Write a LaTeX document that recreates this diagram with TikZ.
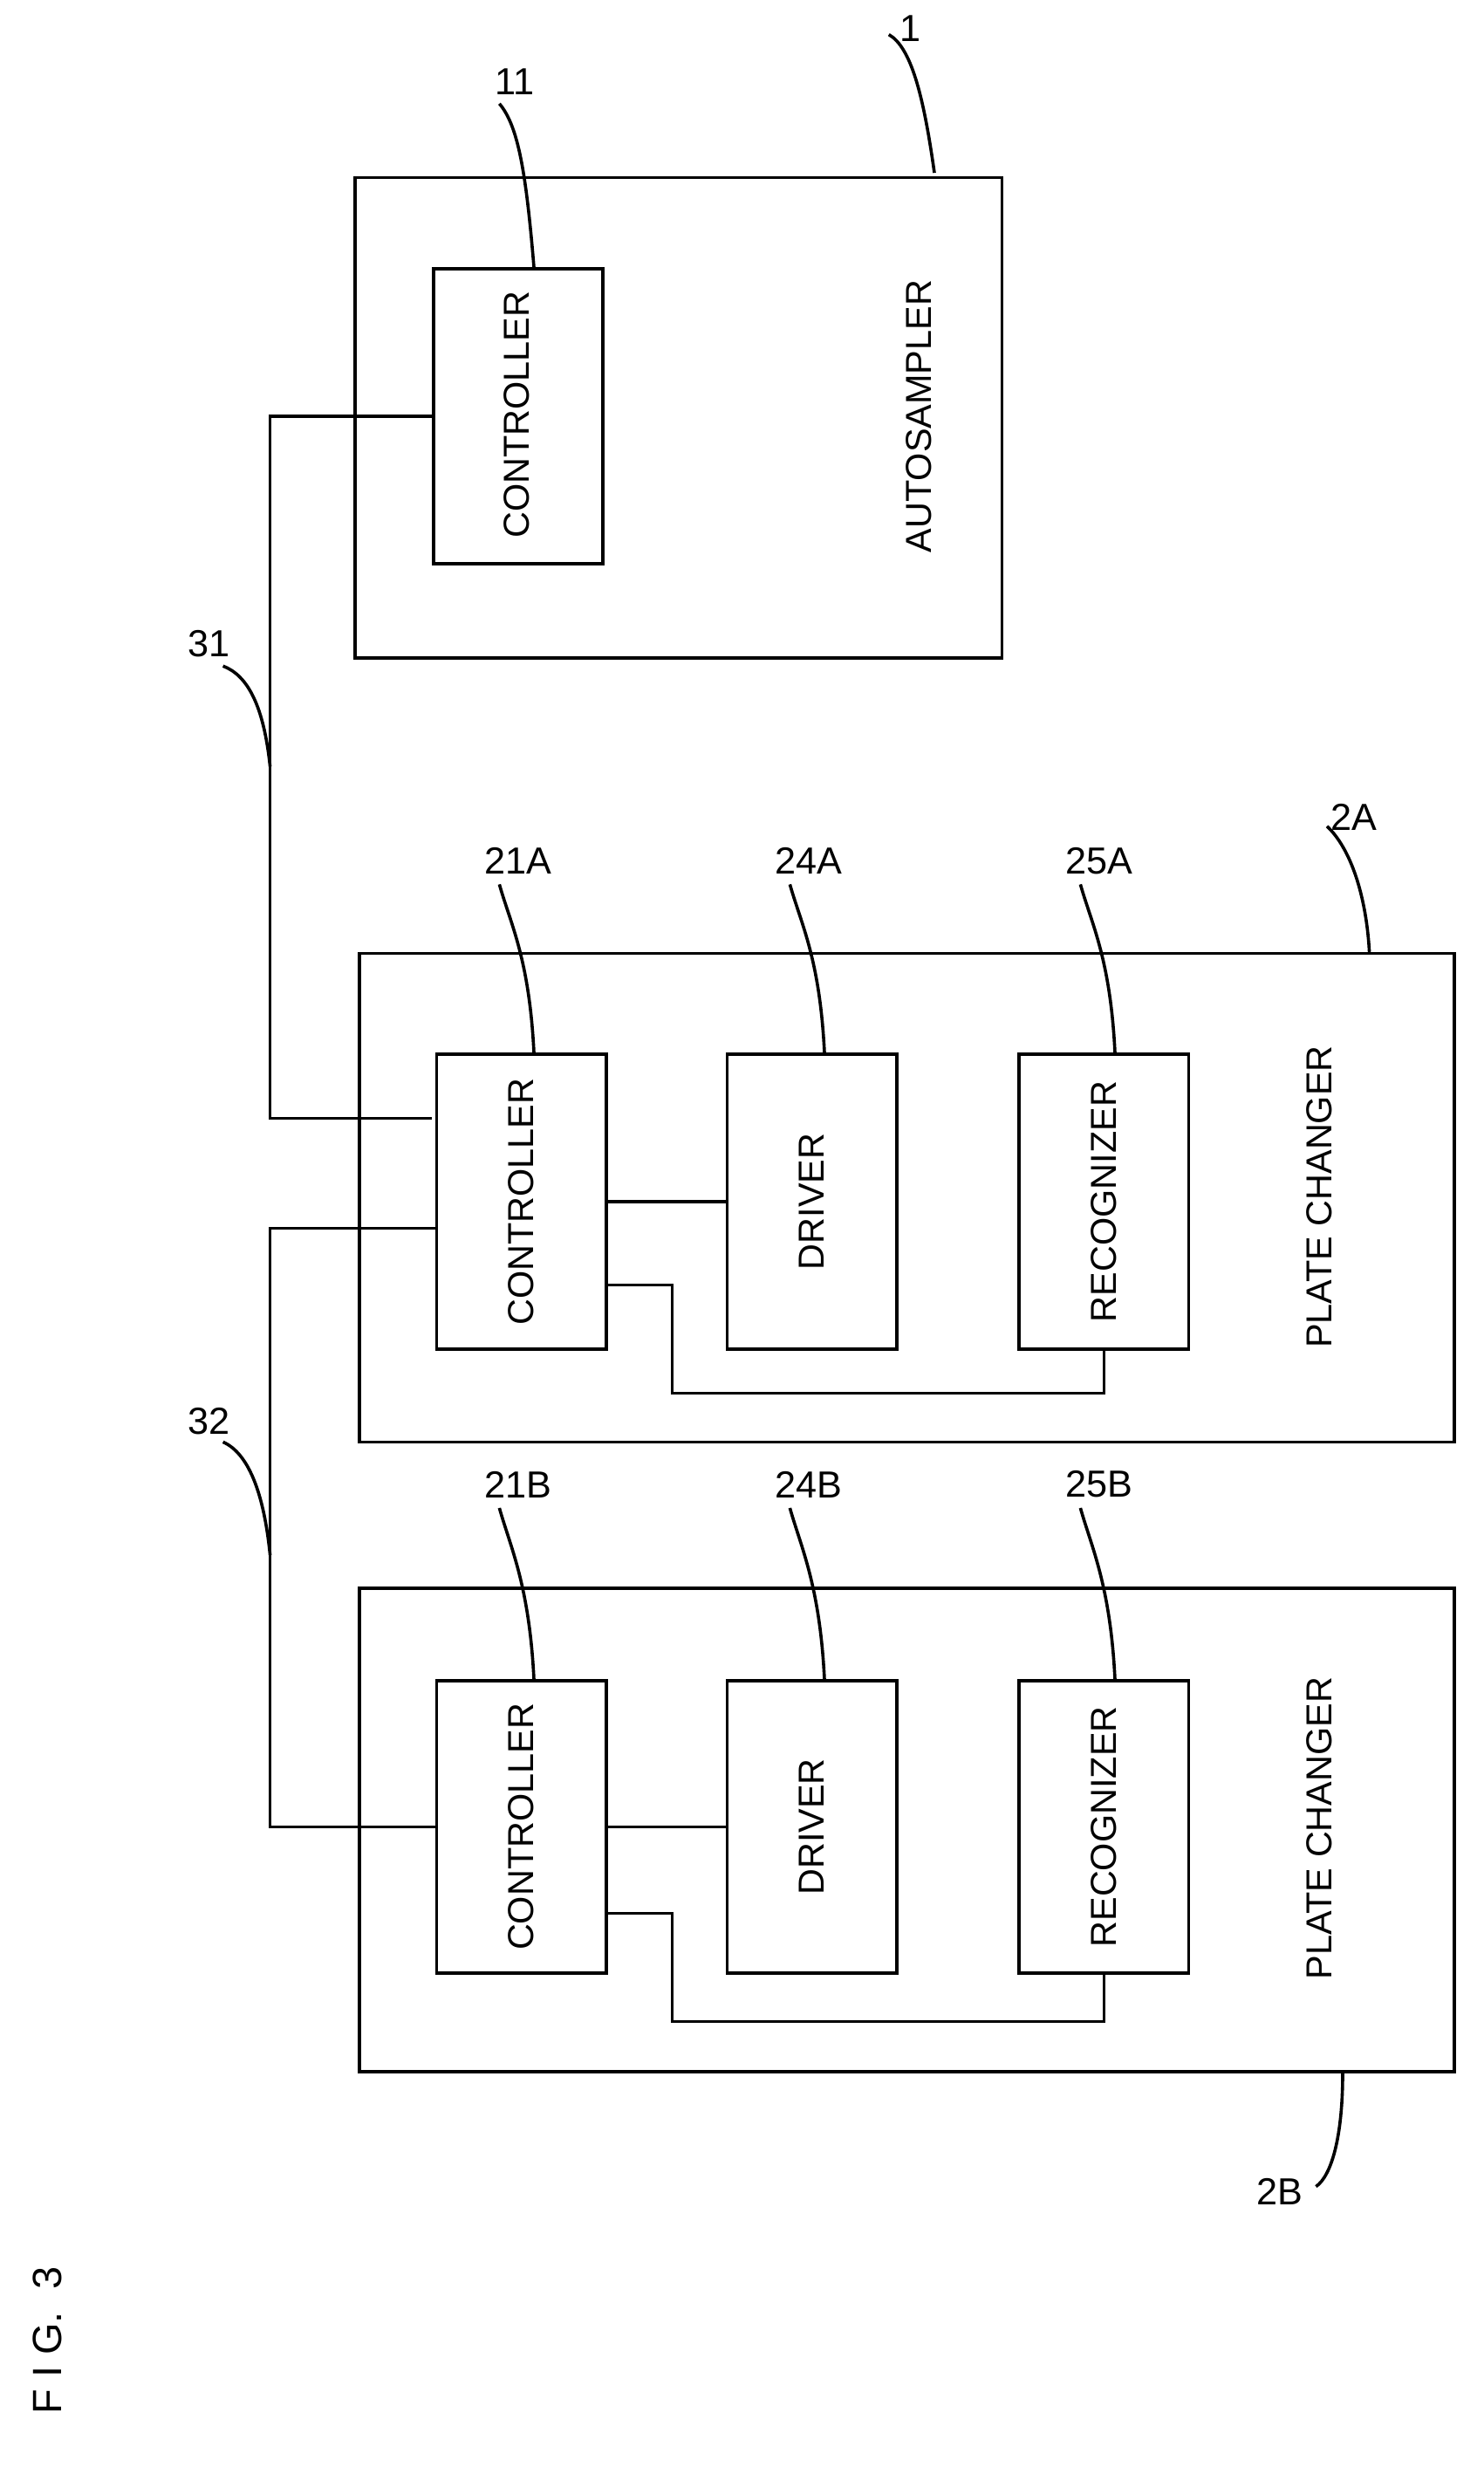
\documentclass[tikz,border=0pt]{standalone}
\usepackage{fontspec}
\setmainfont{Liberation Sans}
\begin{document}
\begin{tikzpicture}[x=1pt,y=-1pt,line width=2pt,
 txt/.style={rotate=90,font=\fontsize{23}{25}\selectfont},
 lab/.style={font=\fontsize{24}{26}\selectfont}]
\useasboundingbox (0,0) rectangle (945,1575);
\node[draw,minimum width=412pt,minimum height=306pt,inner sep=0,anchor=north west] (b1) at (225,112) {};
\node[draw,minimum width=108pt,minimum height=188pt,inner sep=0,anchor=north west] (c11) at (275,170) {};
\node[txt] at (329,264) {CONTROLLER};
\node[txt] (t1) at (585,265) {AUTOSAMPLER};
\node[draw,minimum width=697pt,minimum height=311pt,inner sep=0,anchor=north west] (b2a) at (228,606) {};
\node[draw,minimum width=697pt,minimum height=308pt,inner sep=0,anchor=north west] (b2b) at (228,1010) {};
\foreach \n/\y/\h in {a/670/188,b/1069/186}{
 \node[draw,minimum width=108pt,minimum height=\h pt,inner sep=0,anchor=north west] (c\n) at (277,\y) {};
 \node[draw,minimum width=108pt,minimum height=\h pt,inner sep=0,anchor=north west] (d\n) at (462,\y) {};
 \node[draw,minimum width=108pt,minimum height=\h pt,inner sep=0,anchor=north west] (r\n) at (648,\y) {};
 \node[txt] at (c\n) {CONTROLLER};
 \node[txt] at (d\n) {DRIVER};
 \node[txt] at (r\n) {RECOGNIZER};
}
\node[txt] at (840,762) {PLATE CHANGER};
\node[txt] at (840,1164) {PLATE CHANGER};
\draw (c11.west) -- (172,265) -- (172,712) -- (c11.west |- 0,712);
\draw (277,782) -- (172,782) -- (172,1163) -- (277,1163);
\draw (ca.east |- 0,765) -- (da.west |- 0,765);
\draw (cb.east |- 0,1163) -- (db.west |- 0,1163);
\draw (385,818) -- (428,818) -- (428,887) -- (703,887) -- (ra.south -| 703,0);
\draw (385,1218) -- (428,1218) -- (428,1287) -- (703,1287) -- (rb.south -| 703,0);
\node[lab] (l1) at (580,18) {1};
\draw (595,110) .. controls (588,60) and (580,30) .. (566,22);
\node[lab] (l11) at (328,52) {11};
\draw (340,170) .. controls (335,110) and (330,80) .. (318,66);
\node[lab] (l31) at (133,410) {31};
\draw (172,488) .. controls (168,450) and (158,430) .. (142,424);
\node[lab] (l32) at (133,905) {32};
\draw (172,990) .. controls (168,950) and (158,925) .. (142,918);
\foreach \t/\x/\y/\bx/\by in {21A/330/548/340/670,24A/515/548/525/670,25A/700/548/710/670,21B/330/945/340/1069,24B/515/945/525/1069,25B/700/945/710/1069}{
 \node[lab] at (\x,\y) {\t};
 \draw (\bx,\by) .. controls (\bx-3,\by-60) and (\x-5,\y+40) .. (\x-12,\y+15);
}
\node[lab] (l2a) at (862,520) {2A};
\draw (872,606) .. controls (870,570) and (860,540) .. (845,526);
\node[lab] (l2b) at (815,1395) {2B};
\draw (855,1320) .. controls (855,1360) and (848,1385) .. (838,1392);
\node[rotate=90,font=\fontsize{26}{28}\selectfont] at (30,1490) {F I G. \ 3};
\end{tikzpicture}
\end{document}
